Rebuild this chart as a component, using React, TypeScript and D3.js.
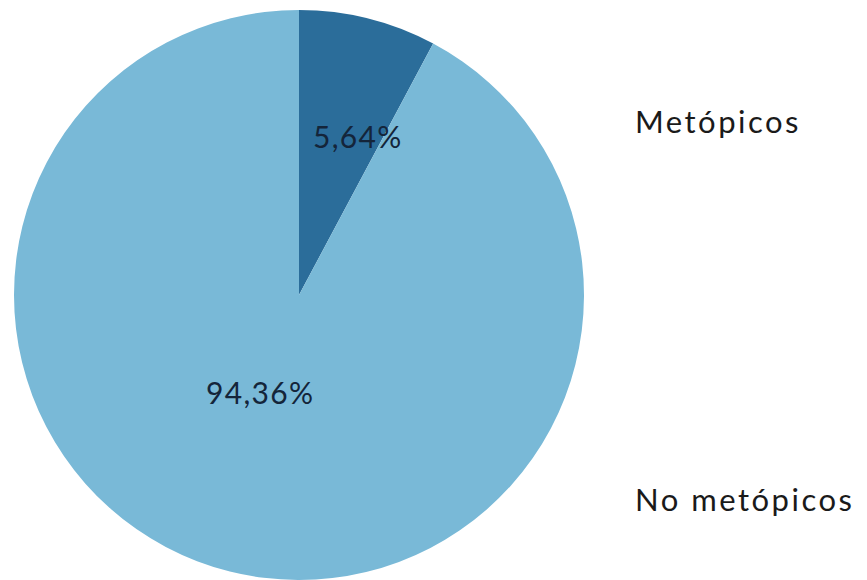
import React from "react";
import * as d3 from "d3";

const categories = ["Metópicos", "No metópicos"];
// share of the circle each slice occupies, as drawn
const sliceShares = [7.8, 92.2];
const valueLabels = ["5,64%", "94,36%"];
const colors = ["#2B6D9A", "#79B9D7"];

const W = 867;
const H = 580;
const cx = 299;
const cy = 295;
const R = 285;

export default function App() {
  const pie = d3
    .pie<number>()
    .sort(null)
    .value((d) => d)
    .startAngle(0)
    .endAngle(2 * Math.PI);
  const arcs = pie(sliceShares);
  const arc = d3.arc<d3.PieArcDatum<number>>().innerRadius(0).outerRadius(R);

  // label polar placement (angle in degrees clockwise from top, radius)
  const labelPolar = [
    { a: 20.5, r: 168 },
    { a: 201.5, r: 106 },
  ];
  const legendY = [133, 511];

  return (
    <svg width={W} height={H} style={{ position: "absolute", left: 0, top: 0 }}>
      <rect width={W} height={H} fill="#ffffff" />
      <g transform={`translate(${cx},${cy})`}>
        {arcs.map((a, i) => (
          <path key={i} d={arc(a) || ""} fill={colors[i]} />
        ))}
        {arcs.map((a, i) => {
          const ang = (labelPolar[i].a * Math.PI) / 180;
          const x = Math.sin(ang) * labelPolar[i].r;
          const y = -Math.cos(ang) * labelPolar[i].r;
          return (
            <text
              key={i}
              x={x}
              y={y}
              dy="0.35em"
              textAnchor="middle"
              fontFamily="Lato, sans-serif"
              fontSize={30}
              letterSpacing={1.3}
              fill="#14253a"
            >
              {valueLabels[i]}
            </text>
          );
        })}
      </g>
      {categories.map((c, i) => (
        <text
          key={c}
          x={635}
          y={legendY[i]}
          fontFamily="Lato, sans-serif"
          fontSize={31}
          letterSpacing={2.5}
          fill="#1a1a1a"
        >
          {c}
        </text>
      ))}
    </svg>
  );
}
